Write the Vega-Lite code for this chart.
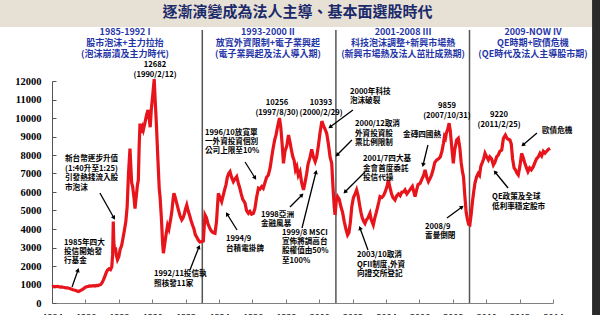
{
"$schema": "https://vega.github.io/schema/vega-lite/v6.json",
"width": 501, "height": 222,
"autosize": {"type": "none"},
"padding": {"left": 52, "top": 81, "right": 47, "bottom": 12},
"background": "#ffffff",
"config": {
"view": {"stroke": null},
"axisX": {"grid": false, "tickCount": 15, "format": "d", "tickSize": -4, "labelPadding": 13, "labelOverlap": false, "labelFlush": false, "domainColor": "#808080", "tickColor": "#808080", "labelFont": "Liberation Serif", "labelFontSize": 10, "labelFontWeight": "bold", "labelColor": "#000000"},
"axisY": {"grid": false, "tickCount": 12, "format": "d", "tickSize": -4, "labelPadding": 15, "labelOverlap": false, "labelFlush": false, "domainColor": "#555555", "tickColor": "#555555", "labelFont": "Liberation Serif", "labelFontSize": 10.5, "labelFontWeight": "bold", "labelColor": "#000000"}
},
"datasets": {
"idx": [
{"t":1984.00,"v":880},{"t":1984.08,"v":900},{"t":1984.17,"v":870},{"t":1984.25,"v":890},{"t":1984.33,"v":900},{"t":1984.42,"v":880},{"t":1984.50,"v":860},{"t":1984.58,"v":870},{"t":1984.67,"v":850},{"t":1984.75,"v":840},{"t":1984.83,"v":820},{"t":1984.92,"v":820},
{"t":1985.00,"v":800},{"t":1985.08,"v":780},{"t":1985.17,"v":750},{"t":1985.25,"v":720},{"t":1985.33,"v":700},{"t":1985.42,"v":680},{"t":1985.50,"v":650},{"t":1985.58,"v":620},{"t":1985.67,"v":660},{"t":1985.75,"v":700},{"t":1985.83,"v":740},{"t":1985.92,"v":800},
{"t":1986.00,"v":850},{"t":1986.08,"v":880},{"t":1986.17,"v":900},{"t":1986.25,"v":920},{"t":1986.33,"v":910},{"t":1986.42,"v":930},{"t":1986.50,"v":940},{"t":1986.58,"v":920},{"t":1986.67,"v":950},{"t":1986.75,"v":940},{"t":1986.83,"v":970},{"t":1986.92,"v":1000},
{"t":1987.00,"v":1100},{"t":1987.08,"v":1250},{"t":1987.17,"v":1450},{"t":1987.25,"v":1650},{"t":1987.33,"v":1780},{"t":1987.42,"v":1850},{"t":1987.50,"v":1800},{"t":1987.58,"v":1950},{"t":1987.63,"v":2600},{"t":1987.67,"v":4400},{"t":1987.70,"v":3300},{"t":1987.75,"v":2800},{"t":1987.80,"v":3000},{"t":1987.85,"v":2600},{"t":1987.92,"v":2340},
{"t":1988.00,"v":2500},{"t":1988.08,"v":2900},{"t":1988.17,"v":3100},{"t":1988.25,"v":3500},{"t":1988.33,"v":3900},{"t":1988.42,"v":4400},{"t":1988.50,"v":5200},{"t":1988.58,"v":7000},{"t":1988.67,"v":8350},{"t":1988.72,"v":7400},{"t":1988.77,"v":6500},{"t":1988.83,"v":6290},{"t":1988.92,"v":5600},{"t":1988.97,"v":5100},
{"t":1989.05,"v":5800},{"t":1989.12,"v":6400},{"t":1989.17,"v":6650},{"t":1989.22,"v":8500},{"t":1989.27,"v":9700},{"t":1989.33,"v":9200},{"t":1989.42,"v":9500},{"t":1989.47,"v":9350},{"t":1989.58,"v":9800},{"t":1989.67,"v":10200},{"t":1989.75,"v":10430},{"t":1989.83,"v":9900},{"t":1989.88,"v":9500},{"t":1989.95,"v":10500},
{"t":1990.04,"v":11300},{"t":1990.12,"v":12100},{"t":1990.17,"v":11100},{"t":1990.25,"v":9700},{"t":1990.33,"v":8000},{"t":1990.42,"v":6200},{"t":1990.47,"v":5750},{"t":1990.55,"v":4600},{"t":1990.62,"v":3300},{"t":1990.67,"v":2690},{"t":1990.75,"v":3200},{"t":1990.83,"v":3700},{"t":1990.92,"v":4200},
{"t":1991.00,"v":4000},{"t":1991.08,"v":4400},{"t":1991.17,"v":4900},{"t":1991.25,"v":5600},{"t":1991.30,"v":5930},{"t":1991.38,"v":5700},{"t":1991.47,"v":5390},{"t":1991.58,"v":5000},{"t":1991.67,"v":4700},{"t":1991.77,"v":4490},{"t":1991.85,"v":4600},{"t":1991.92,"v":4800},
{"t":1992.00,"v":5100},{"t":1992.07,"v":5300},{"t":1992.15,"v":5000},{"t":1992.25,"v":4700},{"t":1992.33,"v":4450},{"t":1992.42,"v":4200},{"t":1992.50,"v":4000},{"t":1992.58,"v":3700},{"t":1992.67,"v":3550},{"t":1992.76,"v":3400},{"t":1992.85,"v":3300},{"t":1992.95,"v":3310},
{"t":1993.06,"v":3350},{"t":1993.12,"v":4200},{"t":1993.16,"v":4760},{"t":1993.25,"v":4600},{"t":1993.33,"v":4300},{"t":1993.42,"v":4100},{"t":1993.50,"v":3950},{"t":1993.58,"v":3850},{"t":1993.67,"v":3800},{"t":1993.76,"v":3770},{"t":1993.85,"v":4400},{"t":1993.96,"v":5930},
{"t":1994.06,"v":5700},{"t":1994.16,"v":5480},{"t":1994.25,"v":5800},{"t":1994.33,"v":6100},{"t":1994.42,"v":6400},{"t":1994.50,"v":6800},{"t":1994.58,"v":7000},{"t":1994.66,"v":7100},{"t":1994.75,"v":6800},{"t":1994.86,"v":6560},{"t":1994.95,"v":6700},
{"t":1995.06,"v":6830},{"t":1995.15,"v":6500},{"t":1995.25,"v":6200},{"t":1995.33,"v":5900},{"t":1995.42,"v":5600},{"t":1995.50,"v":5500},{"t":1995.56,"v":5390},{"t":1995.65,"v":5000},{"t":1995.76,"v":4850},{"t":1995.85,"v":4950},{"t":1995.95,"v":4800},
{"t":1996.06,"v":4850},{"t":1996.15,"v":5100},{"t":1996.25,"v":5700},{"t":1996.36,"v":6200},{"t":1996.45,"v":6150},{"t":1996.56,"v":6290},{"t":1996.65,"v":6200},{"t":1996.75,"v":6500},{"t":1996.85,"v":6800},{"t":1996.95,"v":6900},
{"t":1997.06,"v":7300},{"t":1997.16,"v":7910},{"t":1997.25,"v":8400},{"t":1997.33,"v":8800},{"t":1997.42,"v":9100},{"t":1997.50,"v":9500},{"t":1997.62,"v":10000},{"t":1997.70,"v":9500},{"t":1997.78,"v":8600},{"t":1997.86,"v":7550},{"t":1997.95,"v":8200},
{"t":1998.06,"v":8500},{"t":1998.16,"v":9080},{"t":1998.25,"v":8700},{"t":1998.33,"v":8300},{"t":1998.42,"v":7900},{"t":1998.50,"v":7700},{"t":1998.58,"v":7200},{"t":1998.66,"v":7370},{"t":1998.75,"v":6900},{"t":1998.85,"v":7100},{"t":1998.95,"v":6500},
{"t":1999.06,"v":6110},{"t":1999.15,"v":6500},{"t":1999.25,"v":7000},{"t":1999.33,"v":7500},{"t":1999.46,"v":7910},{"t":1999.55,"v":8300},{"t":1999.65,"v":7900},{"t":1999.76,"v":7640},{"t":1999.85,"v":7900},{"t":1999.95,"v":8500},
{"t":2000.05,"v":9200},{"t":2000.16,"v":9830},{"t":2000.25,"v":9600},{"t":2000.35,"v":9400},{"t":2000.45,"v":9170},{"t":2000.55,"v":8600},{"t":2000.65,"v":7900},{"t":2000.75,"v":7550},{"t":2000.83,"v":6200},{"t":2000.90,"v":5200},{"t":2000.95,"v":4760},
{"t":2001.02,"v":5500},{"t":2001.10,"v":5750},{"t":2001.20,"v":5600},{"t":2001.30,"v":5200},{"t":2001.40,"v":4900},{"t":2001.50,"v":4400},{"t":2001.60,"v":4000},{"t":2001.70,"v":3680},{"t":2001.78,"v":3800},{"t":2001.87,"v":4400},{"t":2001.95,"v":5200},
{"t":2002.05,"v":5700},{"t":2002.15,"v":5900},{"t":2002.24,"v":6110},{"t":2002.33,"v":5800},{"t":2002.42,"v":5300},{"t":2002.50,"v":4900},{"t":2002.58,"v":4600},{"t":2002.67,"v":4400},{"t":2002.74,"v":4300},{"t":2002.83,"v":4500},{"t":2002.92,"v":4600},
{"t":2003.04,"v":4850},{"t":2003.12,"v":4500},{"t":2003.24,"v":4220},{"t":2003.33,"v":4600},{"t":2003.42,"v":4900},{"t":2003.50,"v":5200},{"t":2003.58,"v":5500},{"t":2003.64,"v":5750},{"t":2003.75,"v":5700},{"t":2003.85,"v":5800},{"t":2003.95,"v":6000},
{"t":2004.06,"v":6300},{"t":2004.14,"v":6650},{"t":2004.25,"v":6200},{"t":2004.33,"v":5900},{"t":2004.42,"v":5700},{"t":2004.54,"v":5570},{"t":2004.65,"v":5800},{"t":2004.75,"v":5900},{"t":2004.85,"v":5800},{"t":2004.95,"v":6000},
{"t":2005.05,"v":6000},{"t":2005.14,"v":6110},{"t":2005.25,"v":5900},{"t":2005.33,"v":6000},{"t":2005.42,"v":6100},{"t":2005.50,"v":6200},{"t":2005.58,"v":6300},{"t":2005.67,"v":6000},{"t":2005.74,"v":5750},{"t":2005.83,"v":6100},{"t":2005.92,"v":6400},
{"t":2006.04,"v":6470},{"t":2006.15,"v":6700},{"t":2006.25,"v":6900},{"t":2006.34,"v":7190},{"t":2006.44,"v":6800},{"t":2006.54,"v":6560},{"t":2006.62,"v":6700},{"t":2006.72,"v":6900},{"t":2006.82,"v":7200},{"t":2006.92,"v":7600},
{"t":2007.04,"v":7730},{"t":2007.15,"v":7800},{"t":2007.25,"v":7900},{"t":2007.35,"v":8200},{"t":2007.44,"v":8630},{"t":2007.50,"v":9000},{"t":2007.56,"v":8900},{"t":2007.62,"v":9200},{"t":2007.70,"v":9400},{"t":2007.78,"v":9720},{"t":2007.85,"v":9300},{"t":2007.92,"v":8600},
{"t":2008.03,"v":7550},{"t":2008.12,"v":8300},{"t":2008.23,"v":8810},{"t":2008.33,"v":8900},{"t":2008.42,"v":8400},{"t":2008.50,"v":7600},{"t":2008.58,"v":7100},{"t":2008.64,"v":6830},{"t":2008.72,"v":5800},{"t":2008.80,"v":4900},{"t":2008.88,"v":4500},{"t":2008.95,"v":4250},
{"t":2009.02,"v":4220},{"t":2009.10,"v":4800},{"t":2009.18,"v":5500},{"t":2009.25,"v":6000},{"t":2009.33,"v":6500},{"t":2009.43,"v":6830},{"t":2009.52,"v":7000},{"t":2009.60,"v":6900},{"t":2009.68,"v":7400},{"t":2009.77,"v":7600},{"t":2009.85,"v":7800},{"t":2009.93,"v":8090},
{"t":2010.03,"v":7900},{"t":2010.13,"v":7730},{"t":2010.22,"v":7900},{"t":2010.32,"v":7800},{"t":2010.43,"v":7460},{"t":2010.52,"v":7600},{"t":2010.63,"v":7910},{"t":2010.72,"v":8000},{"t":2010.82,"v":8200},{"t":2010.93,"v":8270},
{"t":2011.03,"v":8900},{"t":2011.15,"v":9080},{"t":2011.25,"v":8900},{"t":2011.33,"v":8850},{"t":2011.42,"v":8810},{"t":2011.50,"v":8600},{"t":2011.58,"v":7800},{"t":2011.67,"v":7300},{"t":2011.75,"v":7200},{"t":2011.85,"v":7000},{"t":2011.92,"v":6920},
{"t":2012.02,"v":7400},{"t":2012.12,"v":8090},{"t":2012.20,"v":7900},{"t":2012.30,"v":7600},{"t":2012.42,"v":7280},{"t":2012.50,"v":7100},{"t":2012.60,"v":7300},{"t":2012.70,"v":7200},{"t":2012.82,"v":7370},{"t":2012.92,"v":7600},
{"t":2013.02,"v":7800},{"t":2013.12,"v":7900},{"t":2013.22,"v":8090},{"t":2013.32,"v":7950},{"t":2013.42,"v":8200},{"t":2013.52,"v":8100},{"t":2013.62,"v":8200},{"t":2013.72,"v":8300},{"t":2013.82,"v":8360}
],
"arrows": [
{"t1":1985.20,"v1":865,"t2":1985.56,"v2":1784},
{"t1":1986.87,"v1":5946,"t2":1987.71,"v2":4595},
{"t1":1992.26,"v1":1784,"t2":1992.80,"v2":3027},
{"t1":1995.56,"v1":7622,"t2":1996.16,"v2":6757},
{"t1":1995.08,"v1":3946,"t2":1994.48,"v2":4811},
{"t1":1998.25,"v1":5189,"t2":1998.97,"v2":5838},
{"t1":1998.97,"v1":4054,"t2":1999.81,"v2":7081},
{"t1":2002.02,"v1":10432,"t2":2000.65,"v2":9514},
{"t1":2001.96,"v1":8811,"t2":2001.07,"v2":8000},
{"t1":2002.74,"v1":7081,"t2":2001.54,"v2":6000},
{"t1":2002.92,"v1":2865,"t2":2002.44,"v2":4054},
{"t1":2006.51,"v1":8541,"t2":2006.22,"v2":7459},
{"t1":2007.65,"v1":4595,"t2":2008.55,"v2":5189},
{"t1":2013.04,"v1":9189,"t2":2012.20,"v2":8541},
{"t1":2011.31,"v1":6216,"t2":2010.53,"v2":7081}
],
"notesL": [
{"t":1984.72,"v":3486,"label":"1985年四大\n投信開始發\n行基金"},
{"t":1984.78,"v":7973,"label":"新台幣逐步升值\n(1:40升至1:25)\n引發熱錢流入股\n市泡沫"},
{"t":1990.11,"v":1757,"label":"1992/11投信執\n照核發11家"},
{"t":1993.16,"v":9432,"label":"1996/10放寬單\n一外資投資個別\n公司上限至10%"},
{"t":1994.42,"v":3649,"label":"1994/9\n台積電掛牌"},
{"t":1996.51,"v":5000,"label":"1998亞洲\n金融風暴"},
{"t":1997.77,"v":4027,"label":"1999/8 MSCI\n宣佈將調高台\n股權值由50%\n至100%"},
{"t":2001.84,"v":11622,"label":"2000年科技\n泡沫破裂"},
{"t":2002.14,"v":9865,"label":"2000/12取消\n外資投資股\n票比例限制"},
{"t":2002.62,"v":7973,"label":"2001/7四大基\n金會首度委託\n投信代操"},
{"t":2002.26,"v":2784,"label":"2003/10取消\nQFII制度,外資\n向證交所登記"},
{"t":2005.02,"v":9324,"label":"金磚四國熱"},
{"t":2006.34,"v":4351,"label":"2008/9\n雷曼倒閉"},
{"t":2013.34,"v":9514,"label":"歐債危機"},
{"t":2010.35,"v":5919,"label":"QE政策及全球\n低利率穩定股市"}
],
"notesC": [
{"t":1990.17,"v":13081,"label":"12682\n(1990/2/12)"},
{"t":1997.47,"v":11027,"label":"10256\n(1997/8/30)"},
{"t":2000.11,"v":11027,"label":"10393\n(2000/2/29)"},
{"t":2007.65,"v":10865,"label":"9859\n(2007/10/31)"},
{"t":2010.77,"v":10378,"label":"9220\n(2011/2/25)"}
],
"heads": [
{"t":1988.37,"v":14838,"label":"1985-1992 I\n股市泡沫+主力拉抬\n(泡沫崩潰及主力時代)"},
{"t":1996.93,"v":14838,"label":"1993-2000 II\n放寬外資限制+電子業興起\n(電子業興起及法人導入期)"},
{"t":2005.02,"v":14838,"label":"2001-2008 III\n科技泡沫調整+新興市場熱\n(新興市場熱及法人茁壯成熟期)"},
{"t":2012.80,"v":14838,"label":"2009-NOW IV\nQE時期+歐債危機\n(QE時代及法人主導股市期)"}
],
"eras": [{"t":1993.0},{"t":2001.0},{"t":2009.0}],
"ttl": [{"t":1998.70,"v":15730,"label":"逐漸演變成為法人主導、基本面選股時代"}]
},
"layer": [
{
"data": {"values": [{}]},
"mark": {"type": "rect", "color": "#e7e1d5"},
"encoding": {
"x": {"datum": 1980.8, "type": "quantitative", "title": null, "scale": {"domain": [1984, 2014], "nice": false, "zero": false}},
"x2": {"datum": 2016.4},
"y": {"datum": 14920, "type": "quantitative", "title": null, "scale": {"domain": [0, 12000], "nice": false, "zero": false}},
"y2": {"datum": 16600}
}
},
{
"data": {"values": [{}]},
"mark": {"type": "rect", "color": "#2a2a2a"},
"encoding": {
"x": {"datum": 2016.34, "type": "quantitative", "title": null},
"x2": {"datum": 2017.2},
"y": {"datum": -1000, "type": "quantitative", "title": null},
"y2": {"datum": 16600}
}
},
{
"data": {"name": "eras"},
"mark": {"type": "rule", "color": "#555555", "strokeWidth": 1.5},
"encoding": {
"x": {"field": "t", "type": "quantitative", "title": null},
"y": {"datum": 0, "type": "quantitative", "title": null},
"y2": {"datum": 14757}
}
},
{
"data": {"name": "idx"},
"mark": {"type": "line", "color": "#e8141b", "strokeWidth": 3.2},
"encoding": {
"x": {"field": "t", "type": "quantitative", "title": null},
"y": {"field": "v", "type": "quantitative", "title": null}
}
},
{
"data": {"name": "arrows"},
"mark": {"type": "rule", "color": "#000000", "strokeWidth": 1.3},
"encoding": {
"x": {"field": "t1", "type": "quantitative", "title": null},
"y": {"field": "v1", "type": "quantitative", "title": null},
"x2": {"field": "t2"},
"y2": {"field": "v2"}
}
},
{
"data": {"name": "arrows"},
"transform": [{"calculate": "atan2((datum.t2-datum.t1)*16.7, (datum.v2-datum.v1)*0.0185)*180/PI", "as": "ang"}],
"mark": {"type": "point", "shape": "triangle-up", "filled": true, "color": "#000000", "size": 22, "opacity": 1},
"encoding": {
"x": {"field": "t2", "type": "quantitative", "title": null},
"y": {"field": "v2", "type": "quantitative", "title": null},
"angle": {"field": "ang", "type": "quantitative", "scale": null}
}
},
{
"data": {"name": "notesL"},
"mark": {"type": "text", "align": "left", "baseline": "top", "lineBreak": "\n", "lineHeight": 9.4, "font": "Noto Sans CJK TC", "fontSize": 7.6, "fontWeight": "bold", "color": "#000000"},
"encoding": {
"x": {"field": "t", "type": "quantitative", "title": null},
"y": {"field": "v", "type": "quantitative", "title": null},
"text": {"field": "label"}
}
},
{
"data": {"name": "notesC"},
"mark": {"type": "text", "align": "center", "baseline": "top", "lineBreak": "\n", "lineHeight": 10, "font": "Noto Sans CJK TC", "fontSize": 7.6, "fontWeight": "bold", "color": "#000000"},
"encoding": {
"x": {"field": "t", "type": "quantitative", "title": null},
"y": {"field": "v", "type": "quantitative", "title": null},
"text": {"field": "label"}
}
},
{
"data": {"name": "heads"},
"mark": {"type": "text", "align": "center", "baseline": "top", "lineBreak": "\n", "lineHeight": 11, "font": "Noto Sans CJK TC", "fontSize": 9, "fontWeight": "bold", "color": "#1f35a8"},
"encoding": {
"x": {"field": "t", "type": "quantitative", "title": null},
"y": {"field": "v", "type": "quantitative", "title": null},
"text": {"field": "label"}
}
},
{
"data": {"name": "ttl"},
"mark": {"type": "text", "align": "center", "baseline": "middle", "font": "Noto Sans CJK TC", "fontSize": 15, "fontWeight": "bold", "color": "#1b2a6b"},
"encoding": {
"x": {"field": "t", "type": "quantitative", "title": null},
"y": {"field": "v", "type": "quantitative", "title": null},
"text": {"field": "label"}
}
}
]
}
